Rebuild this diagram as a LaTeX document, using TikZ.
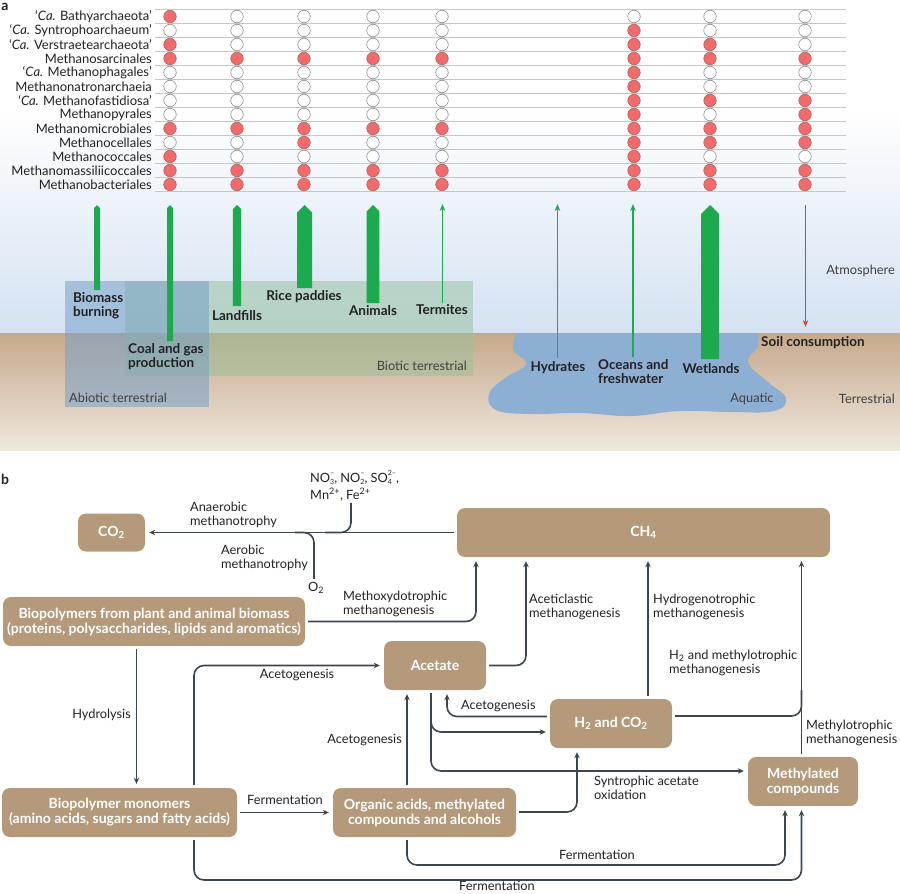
\documentclass[tikz,border=0pt]{standalone}
\usepackage{fontspec}
\setmainfont{Lato}
\usetikzlibrary{arrows.meta,positioning,calc}
\definecolor{skyblue}{HTML}{D4E2F2}
\definecolor{groundtop}{HTML}{C6A98B}
\definecolor{groundbot}{HTML}{EFE7DE}
\definecolor{abiofill}{RGB}{120,160,200}
\definecolor{biofill}{RGB}{150,192,155}
\definecolor{aquablue}{HTML}{8EAFD4}
\definecolor{srcgreen}{HTML}{1DAA4F}
\definecolor{soilred}{HTML}{D9403A}
\definecolor{hitred}{HTML}{F26A6A}
\definecolor{boxbrown}{HTML}{B49A7B}
\definecolor{linecol}{HTML}{3B4651}
\definecolor{darktext}{HTML}{222222}
\definecolor{gridcol}{HTML}{C3C8CF}
% stacked sub- and superscript for ions
\newcommand{\ion}[2]{\raisebox{-2.5pt}{\fontsize{7}{9}\selectfont
  \begin{tabular}[b]{@{}l@{}}#2\\#1\end{tabular}}}
% wide emission arrow: x, half width, bottom
\newcommand{\fatarrow}[3]{%
  \fill[srcgreen] ({#1-#2},#3) -- ({#1-#2},{205+#2}) -- (#1,205)
    -- ({#1+#2},{205+#2}) -- ({#1+#2},#3) -- cycle;}

\begin{document}
\begin{tikzpicture}[x=1pt, y=-1pt, >={Stealth[length=6pt,width=5.5pt]},
    txt/.style={font=\fontsize{12.8}{14}\selectfont, text=darktext, align=left, inner sep=0pt},
    taxon/.style={txt, font=\fontsize{13}{14}\selectfont},
    src/.style={txt, font=\bfseries\fontsize{13.5}{14}\selectfont},
    proc/.style={fill=boxbrown, rounded corners=8pt, text=white, align=center, inner sep=0pt,
      font=\bfseries\fontsize{14}{15}\selectfont},
    hit/.style={circle, draw=hitred!60!black!80, fill=hitred, minimum size=12.5pt, inner sep=0pt, line width=.6pt},
    miss/.style={circle, draw=black!45, fill=white, minimum size=12.5pt, inner sep=0pt, line width=.6pt},
    link/.style={draw=linecol, line width=1.6pt, rounded corners=10pt},
    flow/.style={link, ->, shorten <=3pt, shorten >=4pt}]
  \useasboundingbox (0,0) rectangle (900,894);

  % panel a: sky and soil
  \fill[white] (0,0) rectangle (900,110);
  \shade[top color=white, bottom color=skyblue] (0,110) rectangle (900,333);
  \shade[top color=groundtop, bottom color=groundbot] (0,333) rectangle (900,450);
  \begin{scope}
    \clip (470,333) rectangle (800,420);
    \fill[aquablue] plot[smooth cycle, tension=.7] coordinates {(528,330) (600,330) (680,330)
      (748,330) (758,345) (748,362) (768,382) (786,398) (774,411) (730,412) (680,411)
      (630,416) (580,413) (530,414) (496,410) (489,394) (505,378) (526,364) (513,348)};
  \end{scope}
  \fill[biofill, opacity=.5] (125,281) rectangle (473,376);
  \fill[abiofill, opacity=.55] (65,281) rectangle (209,407);

  % table of lineages
  \foreach \k in {0,...,13}
    \draw[gridcol, line width=.8pt] (155,{9.5+14*\k}) -- (846,{9.5+14*\k});
  \foreach \name [count=\r] in {‘\textit{Ca.} Bathyarchaeota’, ‘\textit{Ca.} Syntrophoarchaeum’,
      ‘\textit{Ca.} Verstraetearchaeota’, Methanosarcinales, ‘\textit{Ca.} Methanophagales’,
      Methanonatronarchaeia, ‘\textit{Ca.} Methanofastidiosa’, Methanopyrales, Methanomicrobiales,
      Methanocellales, Methanococcales, Methanomassiliicoccales, Methanobacteriales}
    \node[taxon, anchor=east] (tax-\r) at (152,{2.5+14*\r}) {\name};
  \foreach \row [count=\r] in {{1,0,0,0,0,0,0,0},{0,0,0,0,0,1,0,0},{1,0,0,0,0,1,1,0},
      {1,1,1,1,1,1,1,1},{0,0,0,0,0,1,0,0},{0,0,0,0,0,1,0,0},{0,0,0,0,0,1,1,1},
      {0,0,0,0,0,1,0,1},{1,1,1,1,1,1,1,1},{0,0,1,0,0,1,1,1},{1,0,0,0,0,1,0,0},
      {1,1,1,1,1,1,1,1},{1,1,1,1,1,1,1,1}}
    \foreach \b [count=\c] in \row {
      \pgfmathsetmacro\cx{{170,237,304,373,442,634,710,805}[\c-1]}
      \ifnum\b=1 \def\st{hit}\else\def\st{miss}\fi
      \node[\st] (dot-\r-\c) at (\cx,{2.5+14*\r}) {};
    }

  % emission arrows
  \fatarrow{97}{3}{290}
  \fatarrow{170}{3}{341}
  \fatarrow{237}{4.2}{306}
  \fatarrow{304.5}{7.5}{288}
  \fatarrow{373}{6.3}{303}
  \fatarrow{710}{9}{359}
  \draw[srcgreen, line width=1.6pt, -{Stealth[length=7pt,width=5.5pt]}] (442.5,303) -- (442.5,204);
  \draw[srcgreen, line width=1.2pt, -{Stealth[length=7pt,width=5.5pt]}] (557.5,358) -- (557.5,204);
  \draw[srcgreen, line width=1.2pt, -{Stealth[length=7pt,width=5.5pt]}] (633,357) -- (633,204);
  \draw[soilred, line width=1.4pt, -{Stealth[length=7pt,width=5.5pt]}] (805.5,205) -- (805.5,327);

  \node[src, anchor=west] (biomass-burn) at (73,306) {Biomass\\burning};
  \node[src, anchor=west] (coal) at (128,357) {Coal and gas\\production};
  \node[src] (landfills) at (237,316) {Landfills};
  \node[src] (rice) at (304,297) {Rice paddies};
  \node[src] (animals) at (373,311) {Animals};
  \node[src] (termites) at (442,310) {Termites};
  \node[src] (hydrates) at (558,368) {Hydrates};
  \node[src, anchor=west] (oceans) at (598,372) {Oceans and\\freshwater};
  \node[src] (wetlands) at (711,369) {Wetlands};
  \node[src, anchor=west] (soil) at (761,343) {Soil consumption};
  \node[txt, anchor=east, text=black!75] (atmos) at (895,271) {Atmosphere};
  \node[txt, anchor=east, text=black!75] (terr) at (895,399) {Terrestrial};
  \node[txt, text=black!75] (aquatic) at (752,399) {Aquatic};
  \node[txt, anchor=east, text=black!75] (biotic) at (467,366) {Biotic terrestrial};
  \node[txt, anchor=west, text=black!75] (abiotic) at (69,398) {Abiotic terrestrial};
  \node[src, font=\bfseries\fontsize{14}{14}\selectfont] (pa) at (5,7) {a};

  % panel b: pathways
  \node[src, font=\bfseries\fontsize{14}{14}\selectfont] (pb) at (5,479) {b};
  \node[proc, minimum width=67, minimum height=38] (co2) at (111.5,532.5) {CO\textsubscript{2}};
  \node[proc, minimum width=373, minimum height=49] (ch4) at (643.5,532.5) {CH\textsubscript{4}};
  \node[proc, minimum width=302, minimum height=49] (polymers) at (154,621.5)
    {Biopolymers from plant and animal biomass\\(proteins, polysaccharides, lipids and aromatics)};
  \node[proc, minimum width=102, minimum height=49] (acetate) at (435,665.5) {Acetate};
  \node[proc, minimum width=122, minimum height=49] (h2co2) at (611,723.5) {H\textsubscript{2} and CO\textsubscript{2}};
  \node[proc, minimum width=235, minimum height=49] (monomers) at (119.5,812.5)
    {Biopolymer monomers\\(amino acids, sugars and fatty acids)};
  \node[proc, minimum width=183, minimum height=49] (organic) at (424.5,812.5)
    {Organic acids, methylated\\compounds and alcohols};
  \node[proc, minimum width=110, minimum height=49] (methyl) at (803,781.5) {Methylated\\compounds};

  \node[txt, anchor=west, font=\fontsize{12.8}{16}\selectfont] (ions) at (310,485)
    {NO\ion{3}{–}, NO\ion{2}{–}, SO\ion{4}{2–},\\Mn\textsuperscript{2+}, Fe\textsuperscript{2+}};
  \node[txt] (o2) at (316,588) {O\textsubscript{2}};

  \draw[flow] (ch4.west) -- (co2.east);
  \draw[link, shorten <=2pt] (ions.south -| 351,0) |- (325,532.5);
  \draw[link, shorten <=3pt] (o2.north -| 314,0) |- (295,532.5);
  \draw[flow] (polymers.east) -| (ch4.south -| 476,0);
  \draw[flow] (acetate.east) -| (ch4.south -| 526,0);
  \draw[flow] (h2co2.north -| 648,0) -- (ch4.south -| 648,0);
  \draw[link, shorten <=3pt] (h2co2.east |- 0,716) -| (801.5,690);
  \draw[flow] (methyl.north -| 801.5,0) -- (ch4.south -| 801.5,0);
  \draw[flow] (polymers.south -| 136.5,0) -- (monomers.north -| 136.5,0);
  \draw[flow] (monomers.east) -- (organic.west);
  \draw[flow] (monomers.north -| 194,0) |- (acetate.west);
  \draw[flow] (organic.north -| 407,0) -- (acetate.south -| 407,0);
  \draw[flow] (h2co2.west |- 0,716.5) -| (acetate.south -| 447,0);
  \draw[flow] (acetate.south -| 431,0) |- (h2co2.west |- 0,732);
  \draw[flow] (acetate.south -| 431,0) |- (methyl.west |- 0,771);
  \draw[flow] (organic.east |- 0,812) -| (h2co2.south -| 577,0);
  \draw[flow] (organic.south -| 407,0) |- (700,865) -| (methyl.south -| 785,0);
  \draw[flow] (monomers.south -| 194,0) |- (700,880) -| (methyl.south -| 801.5,0);

  \node[txt, anchor=west] (anaer) at (190,515) {Anaerobic\\methanotrophy};
  \node[txt, anchor=west] (aer) at (221,558) {Aerobic\\methanotrophy};
  \node[txt, anchor=west] (methoxy) at (343,604) {Methoxydotrophic\\methanogenesis};
  \node[txt, anchor=west] (acetic) at (529,607) {Aceticlastic\\methanogenesis};
  \node[txt, anchor=west] (hydrog) at (653,607) {Hydrogenotrophic\\methanogenesis};
  \node[txt, anchor=west] (h2methyl) at (669,663) {H\textsubscript{2} and methylotrophic\\methanogenesis};
  \node[txt, anchor=west] (methylo) at (806,733) {Methylotrophic\\methanogenesis};
  \node[txt, anchor=east] (hydrolysis) at (131,715) {Hydrolysis};
  \node[txt] (ferm-a) at (285,800) {Fermentation};
  \node[txt] (acetog-a) at (297,675) {Acetogenesis};
  \node[txt, anchor=east] (acetog-b) at (402,740) {Acetogenesis};
  \node[txt, anchor=west] (acetog-c) at (461,706) {Acetogenesis};
  \node[txt, anchor=west] (syntroph) at (594,788) {Syntrophic acetate\\oxidation};
  \node[txt] (ferm-b) at (597,855) {Fermentation};
  \node[txt] (ferm-c) at (497,886) {Fermentation};
\end{tikzpicture}
\end{document}
